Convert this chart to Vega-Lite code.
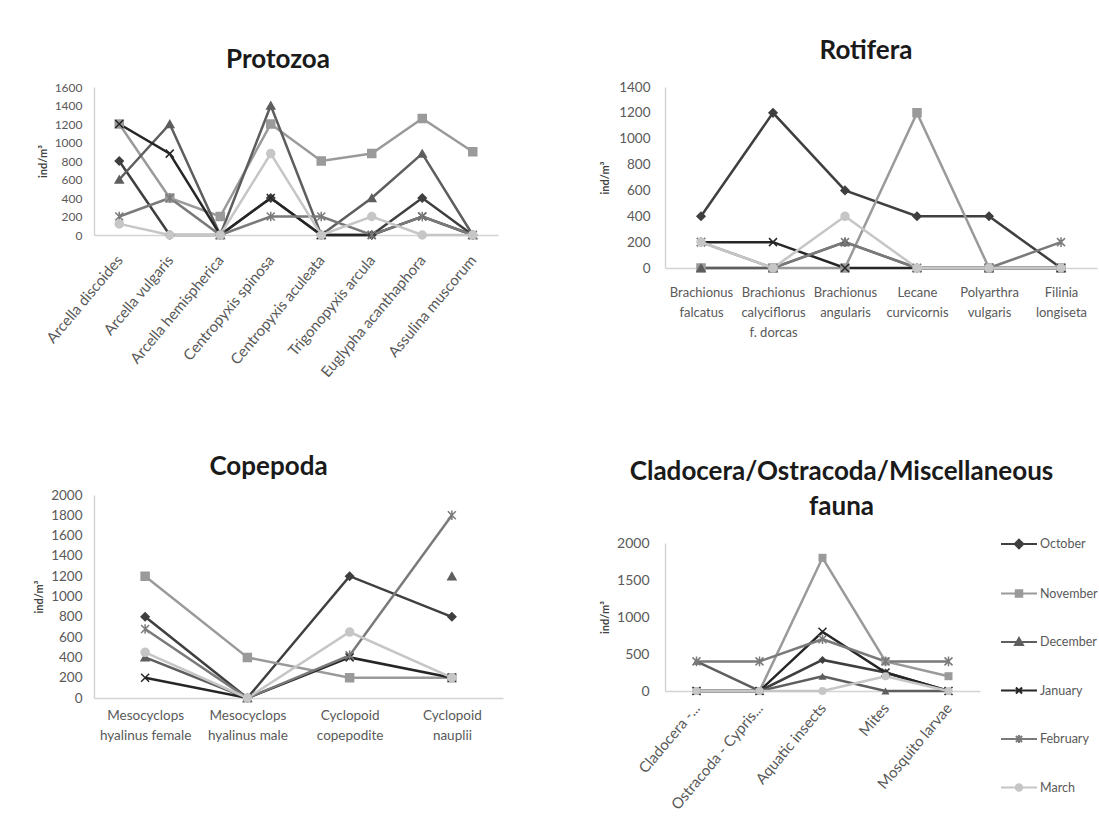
{
  "$schema": "https://vega.github.io/schema/vega-lite/v6.json",
  "background": "white",
  "padding": {"left": 33, "top": 38, "right": 0, "bottom": 0},
  "config": {
    "font": "Lato",
    "view": {"stroke": null},
    "axis": {"domainColor": "#d4d4d4", "domainWidth": 1.5, "ticks": false, "grid": false, "labelColor": "#595959", "labelFont": "Lato", "labelFontSize": 12, "titleFontSize": 11, "titleFontWeight": "bold", "titleColor": "#404040", "labelOverlap": false},
    "axisY": {"format": "d"},
    "title": {"fontSize": 26, "fontWeight": "bold", "color": "#1a1a1a", "anchor": "middle", "font": "Lato"}
  },
  "resolve": {"scale": {"color": "independent", "shape": "independent", "stroke": "independent"}, "legend": {"color": "independent", "shape": "independent", "stroke": "independent"}},
  "spacing": 96,
  "datasets": {
    "protozoa": [
      {"taxon": "Arcella discoides", "month": "October", "value": 800},
      {"taxon": "Arcella vulgaris", "month": "October", "value": 0},
      {"taxon": "Arcella hemispherica", "month": "October", "value": 0},
      {"taxon": "Centropyxis spinosa", "month": "October", "value": 400},
      {"taxon": "Centropyxis aculeata", "month": "October", "value": 0},
      {"taxon": "Trigonopyxis arcula", "month": "October", "value": 0},
      {"taxon": "Euglypha acanthaphora", "month": "October", "value": 400},
      {"taxon": "Assulina muscorum", "month": "October", "value": 0},
      {"taxon": "Arcella discoides", "month": "November", "value": 1200},
      {"taxon": "Arcella vulgaris", "month": "November", "value": 400},
      {"taxon": "Arcella hemispherica", "month": "November", "value": 200},
      {"taxon": "Centropyxis spinosa", "month": "November", "value": 1200},
      {"taxon": "Centropyxis aculeata", "month": "November", "value": 800},
      {"taxon": "Trigonopyxis arcula", "month": "November", "value": 880},
      {"taxon": "Euglypha acanthaphora", "month": "November", "value": 1260},
      {"taxon": "Assulina muscorum", "month": "November", "value": 900},
      {"taxon": "Arcella discoides", "month": "December", "value": 600},
      {"taxon": "Arcella vulgaris", "month": "December", "value": 1200},
      {"taxon": "Arcella hemispherica", "month": "December", "value": 0},
      {"taxon": "Centropyxis spinosa", "month": "December", "value": 1400},
      {"taxon": "Centropyxis aculeata", "month": "December", "value": 0},
      {"taxon": "Trigonopyxis arcula", "month": "December", "value": 400},
      {"taxon": "Euglypha acanthaphora", "month": "December", "value": 880},
      {"taxon": "Assulina muscorum", "month": "December", "value": 0},
      {"taxon": "Arcella discoides", "month": "January", "value": 1200},
      {"taxon": "Arcella vulgaris", "month": "January", "value": 880},
      {"taxon": "Arcella hemispherica", "month": "January", "value": 0},
      {"taxon": "Centropyxis spinosa", "month": "January", "value": 400},
      {"taxon": "Centropyxis aculeata", "month": "January", "value": 0},
      {"taxon": "Trigonopyxis arcula", "month": "January", "value": 0},
      {"taxon": "Euglypha acanthaphora", "month": "January", "value": 200},
      {"taxon": "Assulina muscorum", "month": "January", "value": 0},
      {"taxon": "Arcella discoides", "month": "February", "value": 200},
      {"taxon": "Arcella vulgaris", "month": "February", "value": 400},
      {"taxon": "Arcella hemispherica", "month": "February", "value": 0},
      {"taxon": "Centropyxis spinosa", "month": "February", "value": 200},
      {"taxon": "Centropyxis aculeata", "month": "February", "value": 200},
      {"taxon": "Trigonopyxis arcula", "month": "February", "value": 0},
      {"taxon": "Euglypha acanthaphora", "month": "February", "value": 200},
      {"taxon": "Assulina muscorum", "month": "February", "value": 0},
      {"taxon": "Arcella discoides", "month": "March", "value": 120},
      {"taxon": "Arcella vulgaris", "month": "March", "value": 0},
      {"taxon": "Arcella hemispherica", "month": "March", "value": 0},
      {"taxon": "Centropyxis spinosa", "month": "March", "value": 880},
      {"taxon": "Centropyxis aculeata", "month": "March", "value": 0},
      {"taxon": "Trigonopyxis arcula", "month": "March", "value": 200},
      {"taxon": "Euglypha acanthaphora", "month": "March", "value": 0},
      {"taxon": "Assulina muscorum", "month": "March", "value": 0}
    ],
    "rotifera": [
      {"taxon": "Brachionus falcatus", "month": "October", "value": 400},
      {"taxon": "Brachionus calyciflorus f. dorcas", "month": "October", "value": 1200},
      {"taxon": "Brachionus angularis", "month": "October", "value": 600},
      {"taxon": "Lecane curvicornis", "month": "October", "value": 400},
      {"taxon": "Polyarthra vulgaris", "month": "October", "value": 400},
      {"taxon": "Filinia longiseta", "month": "October", "value": 0},
      {"taxon": "Brachionus falcatus", "month": "November", "value": 0},
      {"taxon": "Brachionus calyciflorus f. dorcas", "month": "November", "value": 0},
      {"taxon": "Brachionus angularis", "month": "November", "value": 0},
      {"taxon": "Lecane curvicornis", "month": "November", "value": 1200},
      {"taxon": "Polyarthra vulgaris", "month": "November", "value": 0},
      {"taxon": "Filinia longiseta", "month": "November", "value": 0},
      {"taxon": "Brachionus falcatus", "month": "December", "value": 0},
      {"taxon": "Brachionus calyciflorus f. dorcas", "month": "December", "value": 0},
      {"taxon": "Brachionus angularis", "month": "December", "value": 200},
      {"taxon": "Lecane curvicornis", "month": "December", "value": 0},
      {"taxon": "Polyarthra vulgaris", "month": "December", "value": 0},
      {"taxon": "Filinia longiseta", "month": "December", "value": 0},
      {"taxon": "Brachionus falcatus", "month": "January", "value": 200},
      {"taxon": "Brachionus calyciflorus f. dorcas", "month": "January", "value": 200},
      {"taxon": "Brachionus angularis", "month": "January", "value": 0},
      {"taxon": "Lecane curvicornis", "month": "January", "value": 0},
      {"taxon": "Polyarthra vulgaris", "month": "January", "value": 0},
      {"taxon": "Filinia longiseta", "month": "January", "value": 0},
      {"taxon": "Brachionus falcatus", "month": "February", "value": 200},
      {"taxon": "Brachionus calyciflorus f. dorcas", "month": "February", "value": 0},
      {"taxon": "Brachionus angularis", "month": "February", "value": 200},
      {"taxon": "Lecane curvicornis", "month": "February", "value": 0},
      {"taxon": "Polyarthra vulgaris", "month": "February", "value": 0},
      {"taxon": "Filinia longiseta", "month": "February", "value": 200},
      {"taxon": "Brachionus falcatus", "month": "March", "value": 200},
      {"taxon": "Brachionus calyciflorus f. dorcas", "month": "March", "value": 0},
      {"taxon": "Brachionus angularis", "month": "March", "value": 400},
      {"taxon": "Lecane curvicornis", "month": "March", "value": 0},
      {"taxon": "Polyarthra vulgaris", "month": "March", "value": 0},
      {"taxon": "Filinia longiseta", "month": "March", "value": 0}
    ],
    "copepoda": [
      {"taxon": "Mesocyclops hyalinus female", "month": "October", "value": 800},
      {"taxon": "Mesocyclops hyalinus male", "month": "October", "value": 0},
      {"taxon": "Cyclopoid copepodite", "month": "October", "value": 1200},
      {"taxon": "Cyclopoid nauplii", "month": "October", "value": 800},
      {"taxon": "Mesocyclops hyalinus female", "month": "November", "value": 1200},
      {"taxon": "Mesocyclops hyalinus male", "month": "November", "value": 400},
      {"taxon": "Cyclopoid copepodite", "month": "November", "value": 200},
      {"taxon": "Cyclopoid nauplii", "month": "November", "value": 200},
      {"taxon": "Mesocyclops hyalinus female", "month": "December", "value": 400},
      {"taxon": "Mesocyclops hyalinus male", "month": "December", "value": 0},
      {"taxon": "Cyclopoid copepodite", "month": "December", "value": null},
      {"taxon": "Cyclopoid nauplii", "month": "December", "value": 1200},
      {"taxon": "Mesocyclops hyalinus female", "month": "January", "value": 200},
      {"taxon": "Mesocyclops hyalinus male", "month": "January", "value": 0},
      {"taxon": "Cyclopoid copepodite", "month": "January", "value": 400},
      {"taxon": "Cyclopoid nauplii", "month": "January", "value": 200},
      {"taxon": "Mesocyclops hyalinus female", "month": "February", "value": 680},
      {"taxon": "Mesocyclops hyalinus male", "month": "February", "value": 0},
      {"taxon": "Cyclopoid copepodite", "month": "February", "value": 420},
      {"taxon": "Cyclopoid nauplii", "month": "February", "value": 1800},
      {"taxon": "Mesocyclops hyalinus female", "month": "March", "value": 450},
      {"taxon": "Mesocyclops hyalinus male", "month": "March", "value": 0},
      {"taxon": "Cyclopoid copepodite", "month": "March", "value": 650},
      {"taxon": "Cyclopoid nauplii", "month": "March", "value": 200}
    ],
    "clado": [
      {"taxon": "Cladocera -...", "month": "October", "value": 0},
      {"taxon": "Ostracoda - Cypris...", "month": "October", "value": 0},
      {"taxon": "Aquatic insects", "month": "October", "value": 420},
      {"taxon": "Mites", "month": "October", "value": 250},
      {"taxon": "Mosquito larvae", "month": "October", "value": 0},
      {"taxon": "Cladocera -...", "month": "November", "value": 0},
      {"taxon": "Ostracoda - Cypris...", "month": "November", "value": 0},
      {"taxon": "Aquatic insects", "month": "November", "value": 1800},
      {"taxon": "Mites", "month": "November", "value": 400},
      {"taxon": "Mosquito larvae", "month": "November", "value": 200},
      {"taxon": "Cladocera -...", "month": "December", "value": 400},
      {"taxon": "Ostracoda - Cypris...", "month": "December", "value": 0},
      {"taxon": "Aquatic insects", "month": "December", "value": 200},
      {"taxon": "Mites", "month": "December", "value": 0},
      {"taxon": "Mosquito larvae", "month": "December", "value": 0},
      {"taxon": "Cladocera -...", "month": "January", "value": 0},
      {"taxon": "Ostracoda - Cypris...", "month": "January", "value": 0},
      {"taxon": "Aquatic insects", "month": "January", "value": 800},
      {"taxon": "Mites", "month": "January", "value": 250},
      {"taxon": "Mosquito larvae", "month": "January", "value": 0},
      {"taxon": "Cladocera -...", "month": "February", "value": 400},
      {"taxon": "Ostracoda - Cypris...", "month": "February", "value": 400},
      {"taxon": "Aquatic insects", "month": "February", "value": 700},
      {"taxon": "Mites", "month": "February", "value": 400},
      {"taxon": "Mosquito larvae", "month": "February", "value": 400},
      {"taxon": "Cladocera -...", "month": "March", "value": 0},
      {"taxon": "Ostracoda - Cypris...", "month": "March", "value": 0},
      {"taxon": "Aquatic insects", "month": "March", "value": 0},
      {"taxon": "Mites", "month": "March", "value": 200},
      {"taxon": "Mosquito larvae", "month": "March", "value": 0}
    ]
  },
  "hconcat": [
    {
      "vconcat": [
        {
          "title": {"text": "Protozoa", "offset": 16, "dx": -18, "dy": 8},
          "width": 404, "height": 148,
          "data": {"name": "protozoa"},
          "encoding": {
            "x": {"field": "taxon", "type": "nominal", "sort": null, "axis": {"title": null, "labelAngle": -50, "labelPadding": 22, "labelFontSize": 15}},
            "y": {"field": "value", "type": "quantitative", "scale": {"domain": [0, 1600], "nice": false}, "axis": {"title": "ind/m³", "values": [0, 200, 400, 600, 800, 1000, 1200, 1400, 1600], "labelPadding": 12, "titlePadding": 6, "labelFontSize": 12}},
            "order": {"value": null}
          },
          "layer": [
            {"mark": {"type": "line", "strokeWidth": 2.5},
             "encoding": {"color": {"field": "month", "type": "nominal", "scale": {"domain": ["October", "November", "December", "January", "February", "March"], "range": ["#3f3f3f", "#9a9a9a", "#5e5e5e", "#262626", "#7a7a7a", "#c6c6c6"]}, "legend": null}}},
            {"mark": {"type": "point", "filled": true, "size": 64, "opacity": 1, "strokeWidth": 1.5},
             "encoding": {
               "color": {"field": "month", "type": "nominal", "legend": null},
               "stroke": {"field": "month", "type": "nominal", "scale": {"domain": ["October", "November", "December", "January", "February", "March"], "range": ["#3f3f3f", "#9a9a9a", "#5e5e5e", "#262626", "#7a7a7a", "#c6c6c6"]}, "legend": null},
               "shape": {"field": "month", "type": "nominal", "scale": {"domain": ["October", "November", "December", "January", "February", "March"], "range": ["diamond", "square", "triangle-up", "M-1,-1L1,1M-1,1L1,-1", "M-1,-1L1,1M-1,1L1,-1M0,-1.2L0,1.2", "circle"]}, "legend": null}
             }}
          ]
        },
        {
          "title": {"text": "Copepoda", "offset": 8, "dx": -30},
          "width": 409, "height": 203,
          "data": {"name": "copepoda"},
          "encoding": {
            "x": {"field": "taxon", "type": "nominal", "sort": null, "axis": {"title": null, "labelAngle": 0, "labelPadding": 10, "labelFontSize": 13.5, "labelLineHeight": 20, "labelExpr": "[slice(datum.value, 0, indexof(datum.value, ' ')), slice(datum.value, indexof(datum.value, ' ') + 1)]"}},
            "y": {"field": "value", "type": "quantitative", "scale": {"domain": [0, 2000], "nice": false}, "axis": {"title": "ind/m³", "values": [0, 200, 400, 600, 800, 1000, 1200, 1400, 1600, 1800, 2000], "labelPadding": 12, "titlePadding": 6, "labelFontSize": 13.5}},
            "order": {"value": null}
          },
          "layer": [
            {"mark": {"type": "line", "strokeWidth": 2.5},
             "encoding": {"color": {"field": "month", "type": "nominal", "scale": {"domain": ["October", "November", "December", "January", "February", "March"], "range": ["#3f3f3f", "#9a9a9a", "#5e5e5e", "#262626", "#7a7a7a", "#c6c6c6"]}, "legend": null}}},
            {"mark": {"type": "point", "filled": true, "size": 64, "opacity": 1, "strokeWidth": 1.5},
             "encoding": {
               "color": {"field": "month", "type": "nominal", "legend": null},
               "stroke": {"field": "month", "type": "nominal", "scale": {"domain": ["October", "November", "December", "January", "February", "March"], "range": ["#3f3f3f", "#9a9a9a", "#5e5e5e", "#262626", "#7a7a7a", "#c6c6c6"]}, "legend": null},
               "shape": {"field": "month", "type": "nominal", "scale": {"domain": ["October", "November", "December", "January", "February", "March"], "range": ["diamond", "square", "triangle-up", "M-1,-1L1,1M-1,1L1,-1", "M-1,-1L1,1M-1,1L1,-1M0,-1.2L0,1.2", "circle"]}, "legend": null}
             }}
          ]
        }
      ],
      "spacing": 74,
      "resolve": {"scale": {"color": "independent", "shape": "independent", "stroke": "independent"}, "legend": {"color": "independent", "shape": "independent", "stroke": "independent"}}
    },
    {
      "vconcat": [
        {
          "title": {"text": "Rotifera", "offset": 16, "dx": -15},
          "width": 432, "height": 181,
          "data": {"name": "rotifera"},
          "encoding": {
            "x": {"field": "taxon", "type": "nominal", "sort": null, "axis": {"title": null, "labelAngle": 0, "labelPadding": 18, "labelFontSize": 13, "labelLineHeight": 20, "labelExpr": "datum.value == 'Brachionus calyciflorus f. dorcas' ? ['Brachionus', 'calyciflorus', 'f. dorcas'] : split(datum.value, ' ')"}},
            "y": {"field": "value", "type": "quantitative", "scale": {"domain": [0, 1400], "nice": false}, "axis": {"title": "ind/m³", "values": [0, 200, 400, 600, 800, 1000, 1200, 1400], "labelPadding": 15, "titlePadding": 8, "labelFontSize": 13.5}},
            "order": {"value": null}
          },
          "layer": [
            {"mark": {"type": "line", "strokeWidth": 2.5},
             "encoding": {"color": {"field": "month", "type": "nominal", "scale": {"domain": ["October", "November", "December", "January", "February", "March"], "range": ["#3f3f3f", "#9a9a9a", "#5e5e5e", "#262626", "#7a7a7a", "#c6c6c6"]}, "legend": null}}},
            {"mark": {"type": "point", "filled": true, "size": 64, "opacity": 1, "strokeWidth": 1.5},
             "encoding": {
               "color": {"field": "month", "type": "nominal", "legend": null},
               "stroke": {"field": "month", "type": "nominal", "scale": {"domain": ["October", "November", "December", "January", "February", "March"], "range": ["#3f3f3f", "#9a9a9a", "#5e5e5e", "#262626", "#7a7a7a", "#c6c6c6"]}, "legend": null},
               "shape": {"field": "month", "type": "nominal", "scale": {"domain": ["October", "November", "December", "January", "February", "March"], "range": ["diamond", "square", "triangle-up", "M-1,-1L1,1M-1,1L1,-1", "M-1,-1L1,1M-1,1L1,-1M0,-1.2L0,1.2", "circle"]}, "legend": null}
             }}
          ]
        },
        {
          "title": {"text": ["Cladocera/Ostracoda/Miscellaneous", "fauna"], "offset": 5, "lineHeight": 35, "dx": 19},
          "width": 315, "height": 148,
          "data": {"name": "clado"},
          "encoding": {
            "x": {"field": "taxon", "type": "nominal", "sort": null, "axis": {"title": null, "labelAngle": -50, "labelPadding": 14, "labelFontSize": 15}},
            "y": {"field": "value", "type": "quantitative", "scale": {"domain": [0, 2000], "nice": false}, "axis": {"title": "ind/m³", "values": [0, 500, 1000, 1500, 2000], "labelPadding": 16, "titlePadding": 6, "labelFontSize": 14}},
            "order": {"value": null},
            "color": {"field": "month", "type": "nominal", "scale": {"domain": ["October", "November", "December", "January", "February", "March"], "range": ["#3f3f3f", "#9a9a9a", "#5e5e5e", "#262626", "#7a7a7a", "#c6c6c6"]}, "legend": null}
          },
          "layer": [
            {"mark": {"type": "line", "strokeWidth": 2.5},
             "encoding": {"color": {"field": "month", "type": "nominal", "scale": {"domain": ["October", "November", "December", "January", "February", "March"], "range": ["#3f3f3f", "#9a9a9a", "#5e5e5e", "#262626", "#7a7a7a", "#c6c6c6"]},
               "legend": {"title": null, "orient": "none", "legendX": 335, "legendY": -18, "symbolType": "stroke", "symbolSize": 1296, "symbolStrokeWidth": 2, "rowPadding": 21.5, "labelFontSize": 12.5, "labelColor": "#595959", "labelOffset": 2,
                 "encode": {"symbols": {"update": {
                   "shape": {"signal": "{'October': 'M-1,0L1,0M0,-0.24L0.24,0L0,0.24L-0.24,0Z', 'November': 'M-1,0L1,0M-0.18,-0.18L0.18,-0.18L0.18,0.18L-0.18,0.18Z', 'December': 'M-1,0L1,0M0,-0.22L0.22,0.17L-0.22,0.17Z', 'January': 'M-1,0L1,0M-0.17,-0.17L0.17,0.17M-0.17,0.17L0.17,-0.17', 'February': 'M-1,0L1,0M-0.17,-0.17L0.17,0.17M-0.17,0.17L0.17,-0.17M0,-0.22L0,0.22', 'March': 'M-1,0L1,0M0.18,0A0.18,0.18,0,1,1,-0.18,0A0.18,0.18,0,1,1,0.18,0Z'}[datum.value]"},
                   "stroke": {"signal": "{'October': '#3f3f3f', 'November': '#9a9a9a', 'December': '#5e5e5e', 'January': '#262626', 'February': '#7a7a7a', 'March': '#c6c6c6'}[datum.value]"},
                   "fill": {"signal": "{'October': '#3f3f3f', 'November': '#9a9a9a', 'December': '#5e5e5e', 'January': '#262626', 'February': '#7a7a7a', 'March': '#c6c6c6'}[datum.value]"},
                   "strokeWidth": {"value": 2},
                   "opacity": {"value": 1}
                 }}}}}}},
            {"transform": [{"filter": "datum.month == 'October'"}],
             "mark": {"type": "point", "shape": "diamond", "filled": true, "size": 64, "opacity": 1}},
            {"transform": [{"filter": "datum.month == 'November'"}],
             "mark": {"type": "point", "shape": "square", "filled": true, "size": 64, "opacity": 1}},
            {"transform": [{"filter": "datum.month == 'December'"}],
             "mark": {"type": "point", "shape": "triangle-up", "filled": true, "size": 64, "opacity": 1}},
            {"transform": [{"filter": "datum.month == 'January'"}],
             "mark": {"type": "point", "shape": "M-1,-1L1,1M-1,1L1,-1", "filled": false, "strokeWidth": 1.5, "size": 64, "opacity": 1}},
            {"transform": [{"filter": "datum.month == 'February'"}],
             "mark": {"type": "point", "shape": "M-1,-1L1,1M-1,1L1,-1M0,-1.2L0,1.2", "filled": false, "strokeWidth": 1.5, "size": 64, "opacity": 1}},
            {"transform": [{"filter": "datum.month == 'March'"}],
             "mark": {"type": "point", "shape": "circle", "filled": true, "size": 64, "opacity": 1}}
          ]
        }
      ],
      "spacing": 120,
      "resolve": {"scale": {"color": "independent", "shape": "independent", "stroke": "independent"}, "legend": {"color": "independent", "shape": "independent", "stroke": "independent"}}
    }
  ]
}
